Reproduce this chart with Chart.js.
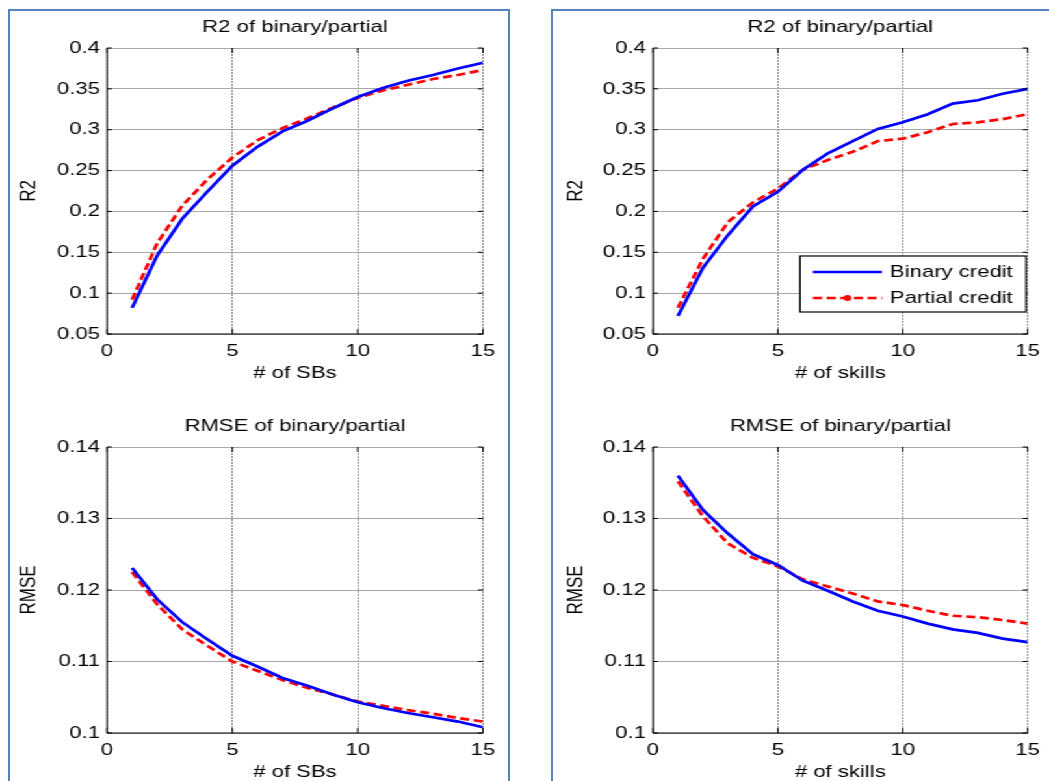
<!DOCTYPE html>
<html><head><meta charset="utf-8">
<script src="https://cdn.jsdelivr.net/npm/chart.js@4.4.1/dist/chart.umd.min.js"></script>
<style>
html,body{margin:0;padding:0;background:#fff;overflow:hidden;width:1049px;height:781px;position:relative}
.frame{position:absolute;border:2px solid #5682c0;box-sizing:border-box}
#stretch{position:absolute;left:0;top:0;width:807px;height:781px;transform:scaleX(1.3);transform-origin:0 0}
#stretch canvas{position:absolute}
</style></head><body>
<div class="frame" style="left:8px;top:9px;width:502px;height:800px"></div>
<div class="frame" style="left:551px;top:9px;width:600px;height:800px"></div>
<div id="stretch">
<canvas id="c1"></canvas><canvas id="c2"></canvas><canvas id="c3"></canvas><canvas id="c4"></canvas>
</div>
<script>
// ---- data ----
const xValues = [1,2,3,4,5,6,7,8,9,10,11,12,13,14,15];
const xTicks = [0,5,10,15];
const r2Ticks = [0.05,0.1,0.15,0.2,0.25,0.3,0.35,0.4];
const rmseTicks = [0.1,0.11,0.12,0.13,0.14];
const seriesNames = ['Binary credit','Partial credit'];

const sbsR2Binary   = [0.082,0.146,0.191,0.224,0.256,0.279,0.298,0.311,0.326,0.340,0.351,0.360,0.367,0.375,0.382];
const sbsR2Partial  = [0.092,0.161,0.207,0.239,0.266,0.287,0.302,0.314,0.327,0.339,0.348,0.355,0.362,0.367,0.373];
const skillsR2Binary  = [0.072,0.131,0.171,0.206,0.224,0.251,0.271,0.286,0.301,0.309,0.319,0.332,0.336,0.344,0.350];
const skillsR2Partial = [0.082,0.142,0.187,0.211,0.228,0.251,0.263,0.273,0.286,0.289,0.297,0.307,0.309,0.313,0.319];
const sbsRmseBinary  = [0.1231,0.1187,0.1155,0.1131,0.1108,0.1093,0.1077,0.1066,0.1054,0.1043,0.1035,0.1028,0.1022,0.1016,0.1008];
const sbsRmsePartial = [0.1225,0.1180,0.1145,0.1122,0.1100,0.1087,0.1074,0.1063,0.1054,0.1044,0.1038,0.1032,0.1027,0.1021,0.1016];
const skillsRmseBinary  = [0.1360,0.1312,0.1279,0.1250,0.1235,0.1213,0.1199,0.1184,0.1171,0.1163,0.1153,0.1145,0.1140,0.1132,0.1127];
const skillsRmsePartial = [0.1352,0.1303,0.1265,0.1245,0.1233,0.1215,0.1205,0.1195,0.1184,0.1179,0.1171,0.1164,0.1162,0.1158,0.1153];

// ---- rendering ----
const K = 1.3; // horizontal stretch of the reference
const FONT = 17;
Chart.defaults.font.family = "'Liberation Sans', Arial, Helvetica, sans-serif";
Chart.defaults.font.size = FONT;
Chart.defaults.color = '#000';

const fmt = v => String(parseFloat(Number(v).toFixed(3)));

const axesPlugin = {
  id: 'matlabAxes',
  afterDraw(chart) {
    const {ctx, chartArea: a, scales: {x, y}} = chart;
    ctx.save();
    ctx.strokeStyle = '#000';
    ctx.lineWidth = 1;
    ctx.beginPath();
    ctx.moveTo(a.left, a.top); ctx.lineTo(a.left, a.bottom); ctx.lineTo(a.right, a.bottom);
    x.ticks.forEach(t => {
      const px = x.getPixelForValue(t.value);
      ctx.moveTo(px, a.bottom); ctx.lineTo(px, a.bottom - 5);
      ctx.moveTo(px, a.top); ctx.lineTo(px, a.top + 5);
    });
    y.ticks.forEach(t => {
      const py = y.getPixelForValue(t.value);
      ctx.moveTo(a.left, py); ctx.lineTo(a.left + 5 / K, py);
      ctx.moveTo(a.right, py); ctx.lineTo(a.right - 5 / K, py);
    });
    ctx.stroke();
    ctx.restore();
  }
};

const titlePlugin = {
  id: 'panelTitle',
  afterDraw(chart, args, opts) {
    const {ctx, chartArea: a} = chart;
    ctx.save();
    ctx.font = FONT + "px 'Liberation Sans', Arial, sans-serif";
    ctx.fillStyle = '#000';
    ctx.textAlign = 'center';
    ctx.textBaseline = 'middle';
    ctx.fillText(opts.text, (a.left + a.right) / 2, a.top - 21);
    ctx.restore();
  }
};

const legendPlugin = {
  id: 'inLegend',
  afterDraw(chart, args, opts) {
    if (!opts || !opts.show) return;
    const {ctx} = chart;
    const ox = opts.offsetX, oy = opts.offsetY;
    const L = opts.box[0] / K - ox, R = opts.box[1] / K - ox, T = opts.box[2] - oy, B = opts.box[3] - oy;
    ctx.save();
    ctx.fillStyle = '#fff';
    ctx.fillRect(L, T, R - L, B - T);
    ctx.strokeStyle = '#000';
    ctx.lineWidth = 1.2;
    ctx.strokeRect(L, T, R - L, B - T);
    ctx.font = FONT + "px 'Liberation Sans', Arial, sans-serif";
    ctx.textBaseline = 'middle';
    ctx.textAlign = 'left';
    chart.data.datasets.forEach((ds, i) => {
      const yy = opts.rows[i] - oy;
      const x1 = opts.line[0] / K - ox, x2 = opts.line[1] / K - ox;
      ctx.beginPath();
      ctx.strokeStyle = ds.borderColor;
      ctx.lineWidth = ds.borderWidth;
      ctx.setLineDash(ds.borderDash || []);
      ctx.moveTo(x1, yy); ctx.lineTo(x2, yy);
      ctx.stroke();
      ctx.setLineDash([]);
      if (ds.legendDot) {
        ctx.beginPath();
        ctx.fillStyle = ds.borderColor;
        ctx.arc((x1 + x2) / 2, yy, 3, 0, Math.PI * 2);
        ctx.fill();
      }
      ctx.fillStyle = '#000';
      ctx.fillText(ds.label, opts.textX / K - ox, yy);
    });
    ctx.restore();
  }
};

function makePanel(id, p) {
  const cv = document.getElementById(id);
  const x0 = p.canvas.x / K;
  const wInt = Math.round(p.canvas.w / K);
  cv.width = wInt; cv.height = p.canvas.h;
  cv.style.left = x0 + 'px'; cv.style.top = p.canvas.y + 'px';
  cv.style.width = wInt + 'px'; cv.style.height = p.canvas.h + 'px';
  const leftRel = p.area.l / K - x0;
  const rightRel = p.area.r / K - x0;
  const XH = 56;
  const mk = arr => xValues.map((x, i) => ({x, y: arr[i]}));
  new Chart(cv, {
    type: 'line',
    data: {datasets: [
      {label: seriesNames[0], data: mk(p.binary), borderColor: '#0000ff', borderWidth: 2.7,
       pointRadius: 0, tension: 0, fill: false},
      {label: seriesNames[1], data: mk(p.partial), borderColor: '#ff0000', borderWidth: 2.7,
       borderDash: [7, 3.5], pointRadius: 0, tension: 0, fill: false, legendDot: true}
    ]},
    options: {
      responsive: false, animation: false, events: [],
      layout: {padding: {left: 0, right: wInt - rightRel, top: p.area.t - p.canvas.y,
               bottom: p.canvas.h - (p.area.b - p.canvas.y) - XH}},
      plugins: {
        legend: {display: false}, tooltip: {enabled: false},
        panelTitle: {text: p.title},
        inLegend: p.legend ? Object.assign({show: true, offsetX: x0, offsetY: p.canvas.y}, p.legend) : {show: false}
      },
      scales: {
        x: {
          type: 'linear', min: 0, max: 15,
          afterBuildTicks: s => { s.ticks = xTicks.map(v => ({value: v})); },
          afterFit: s => { s.height = XH; },
          ticks: {padding: 7, maxRotation: 0, autoSkip: false, callback: v => fmt(v)},
          grid: {color: 'rgba(70,70,70,0.8)', lineWidth: 0.8, drawTicks: false},
          border: {display: false, dash: [2, 1]},
          title: {display: true, text: p.xTitle, padding: {top: 0, bottom: 6.8}}
        },
        y: {
          type: 'linear', min: p.yTicks[0], max: p.yTicks[p.yTicks.length - 1],
          afterBuildTicks: s => { s.ticks = p.yTicks.map(v => ({value: v})); },
          afterFit: s => { s.width = leftRel; },
          ticks: {padding: 5.4, autoSkip: false, callback: v => fmt(v)},
          grid: {color: '#a8a8a8', lineWidth: 1, drawTicks: false},
          border: {display: false},
          title: {display: true, text: p.yTitle, padding: {top: p.yTitleX / K - x0 - FONT * 0.6, bottom: 0}}
        }
      }
    },
    plugins: [axesPlugin, titlePlugin, legendPlugin]
  });
}

makePanel('c1', {canvas: {x: 0, y: 0, w: 520, h: 400}, area: {l: 107, r: 483, t: 48, b: 334},
  title: 'R2 of binary/partial', xTitle: '# of SBs', yTitle: 'R2', yTitleX: 29.5,
  yTicks: r2Ticks, binary: sbsR2Binary, partial: sbsR2Partial});
makePanel('c2', {canvas: {x: 520, y: 0, w: 529.1, h: 400}, area: {l: 653, r: 1030, t: 48, b: 334},
  title: 'R2 of binary/partial', xTitle: '# of skills', yTitle: 'R2', yTitleX: 576,
  yTicks: r2Ticks, binary: skillsR2Binary, partial: skillsR2Partial,
  legend: {box: [800, 1026, 256, 312], line: [813, 882], textX: 890, rows: [272, 298]}});
makePanel('c3', {canvas: {x: 0, y: 390, w: 520, h: 400}, area: {l: 107, r: 483, t: 447, b: 733},
  title: 'RMSE of binary/partial', xTitle: '# of SBs', yTitle: 'RMSE', yTitleX: 29.5,
  yTicks: rmseTicks, binary: sbsRmseBinary, partial: sbsRmsePartial});
makePanel('c4', {canvas: {x: 520, y: 390, w: 529.1, h: 400}, area: {l: 653, r: 1030, t: 447, b: 733},
  title: 'RMSE of binary/partial', xTitle: '# of skills', yTitle: 'RMSE', yTitleX: 576,
  yTicks: rmseTicks, binary: skillsRmseBinary, partial: skillsRmsePartial});
</script>
</body></html>
